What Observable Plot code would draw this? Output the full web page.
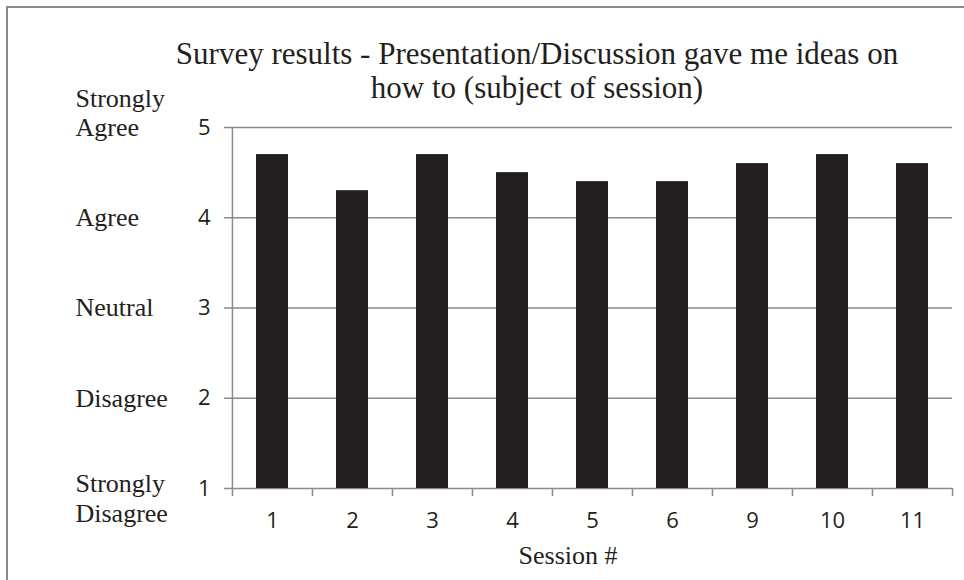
<!DOCTYPE html>
<html>
<head>
<meta charset="utf-8">
<script src="https://cdn.jsdelivr.net/npm/d3@7"></script>
<script src="https://cdn.jsdelivr.net/npm/@observablehq/plot@0.6"></script>
<style>
  html, body { margin: 0; padding: 0; background: #fff; }
  #wrap { position: relative; width: 964px; height: 580px; overflow: hidden; }
  #border { position: absolute; left: 6px; top: 6px; width: 980px; height: 600px;
            border-left: 2px solid #8a8a8a; border-top: 2px solid #8a8a8a; }
  #chart { position: absolute; left: 0; top: 0; }
  #chart g[aria-label$="tick label"] { font-size: 22px !important; font-family: 'Open Sans', sans-serif !important; }
  #chart g[aria-label$="tick label"] text { font-size: 22px !important; }
</style>
</head>
<body>
<div id="wrap"><div id="border"></div><div id="chart"></div></div>
<script>
const sessions = ["1", "2", "3", "4", "5", "6", "9", "10", "11"];
const scores = [4.7, 4.3, 4.7, 4.5, 4.4, 4.4, 4.6, 4.7, 4.6];
const yTicks = [1, 2, 3, 4, 5];
const singleLevelLabels = ["Disagree", "Neutral", "Agree"];
const singleLevelValues = [2, 3, 4];
const titleText = "Survey results - Presentation/Discussion gave me ideas on\nhow to (subject of session)";
const xTitle = "Session #";

const data = sessions.map((s, i) => ({session: s, score: scores[i]}));

const W = 964, H = 580, mL = 231, mR = 12, mT = 127, mB = 92;
const step = (W - mL - mR) / sessions.length;
const ink = "#231f20", gridColor = "#8a8a8a";
const serif = "'Liberation Serif', 'Times New Roman', serif";
const sans = "'Open Sans', sans-serif";

const chart = Plot.plot({
  width: W, height: H,
  marginLeft: mL, marginRight: mR, marginTop: mT, marginBottom: mB,
  style: {fontFamily: sans, fontSize: "22px", color: ink, background: "transparent"},
  x: {domain: sessions, paddingInner: 0.6, paddingOuter: 0.3, label: null},
  y: {domain: [1, 5], label: null},
  marks: [
    Plot.gridY(yTicks.slice(1), {stroke: gridColor, strokeOpacity: 1, strokeWidth: 1.5}),
    Plot.ruleY([1], {stroke: gridColor, strokeWidth: 1.5}),
    Plot.ruleX([sessions[0]], {y1: 1, y2: 5, dx: -step / 2, stroke: gridColor, strokeWidth: 1.5}),
    Plot.ruleX(sessions, {y1: 1, y2: 1, dx: -step / 2, insetBottom: -8, stroke: gridColor, strokeWidth: 1.5}),
    Plot.ruleX([sessions[sessions.length - 1]], {y1: 1, y2: 1, dx: step / 2, insetBottom: -8, stroke: gridColor, strokeWidth: 1.5}),
    Plot.barY(data, {x: "session", y1: 1, y2: "score", fill: ink}),
    Plot.axisY(yTicks, {tickSize: 7, tickPadding: 14, tickFormat: "d", stroke: gridColor, strokeWidth: 1.5, fontSize: 22, fill: ink, label: null}),
    Plot.axisX({tickSize: 0, tickPadding: 24, fontSize: 22, fill: ink, label: null}),
    Plot.text(singleLevelLabels, {y: (d, i) => singleLevelValues[i], text: d => d, frameAnchor: "left", dx: -156, textAnchor: "start", fontFamily: serif, fontSize: 26, fill: ink}),
    Plot.text(["Strongly\nAgree"], {y: 5, text: d => d, frameAnchor: "left", dx: -156, dy: 8, textAnchor: "start", lineAnchor: "bottom", lineHeight: 1.08, fontFamily: serif, fontSize: 26, fill: ink}),
    Plot.text(["Strongly\nDisagree"], {y: 1, text: d => d, frameAnchor: "left", dx: -156, dy: -18, textAnchor: "start", lineAnchor: "top", lineHeight: 1.15, fontFamily: serif, fontSize: 26, fill: ink}),
    Plot.text([titleText], {frameAnchor: "top", dx: -55, dy: -mT + 39, lineAnchor: "top", lineHeight: 1.1, fontFamily: serif, fontSize: 31, fill: ink}),
    Plot.text([xTitle], {frameAnchor: "bottom", dx: -24, dy: 67, lineAnchor: "middle", fontFamily: serif, fontSize: 26, fill: ink})
  ]
});
document.getElementById("chart").appendChild(chart);
</script>
</body>
</html>
